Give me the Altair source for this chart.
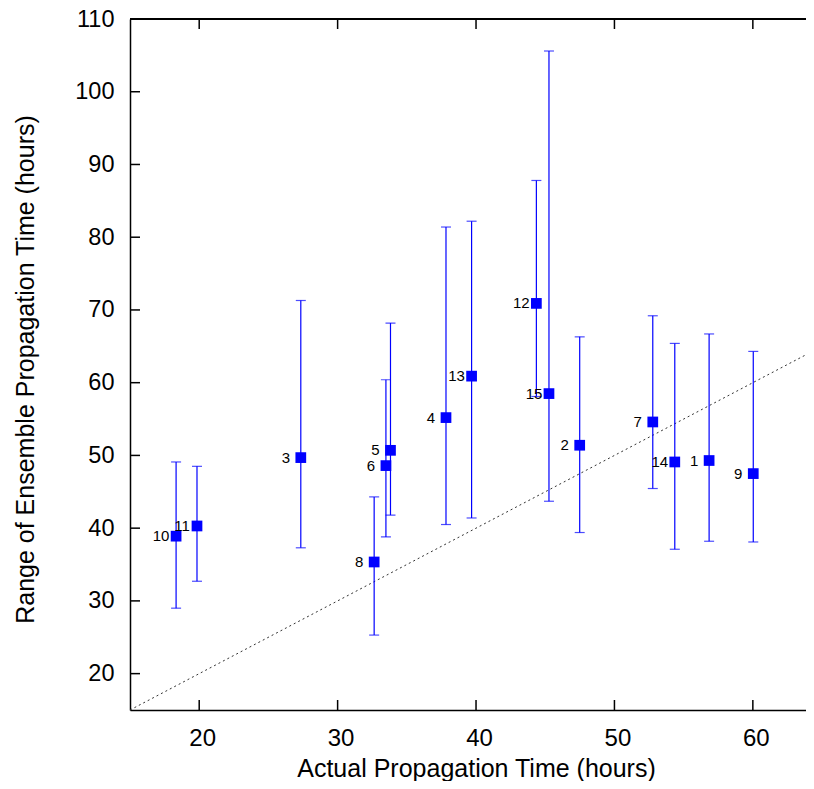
import altair as alt
import pandas as pd

# Event numbers and values
labels = ["1", "2", "3", "4", "5", "6", "7", "8", "9", "10", "11", "12", "13", "14", "15"]
actual = [56.84, 47.49, 27.34, 37.83, 33.82, 33.49, 52.77, 32.64, 60.03, 18.33, 19.84, 44.36, 39.68, 54.36, 45.27]
ens_mid = [49.3, 51.4, 49.7, 55.2, 50.7, 48.6, 54.6, 35.35, 47.5, 38.9, 40.3, 70.9, 60.9, 49.1, 58.5]
ens_low = [38.2, 39.4, 37.3, 40.5, 41.8, 38.8, 45.45, 25.3, 38.1, 29.0, 32.7, 58.1, 41.4, 37.1, 43.7]
ens_high = [66.7, 66.3, 71.3, 81.4, 68.2, 60.4, 69.2, 44.3, 64.3, 49.1, 48.5, 87.8, 82.2, 65.4, 105.6]

x_ticks = [20, 30, 40, 50, 60]
y_ticks = [20, 30, 40, 50, 60, 70, 80, 90, 100, 110]
diag = [15, 65]

W, H = 676, 691
FONT = "Liberation Sans"
BLUE = "#0000ff"

df = pd.DataFrame({"label": labels, "x": actual, "y": ens_mid, "lo": ens_low, "hi": ens_high})
xt = pd.DataFrame({"x": x_ticks})
yt = pd.DataFrame({"y": y_ticks})
dd = pd.DataFrame({"x": diag, "y": diag})

xs = alt.Scale(domain=[15, 63.84], nice=False, zero=False)
ys = alt.Scale(domain=[15, 110], nice=False, zero=False)

ax_x = alt.Axis(
    values=x_ticks, ticks=False, grid=False, title="Actual Propagation Time (hours)",
    labelFont=FONT, labelFontSize=24, labelColor="black", labelPadding=16, labelOffset=3,
    domainColor="black", domainWidth=1.5, domainOpacity=1,
    titleFont=FONT, titleFontSize=25, titleFontWeight="normal", titleColor="black",
    titleX=346, titleY=66, titleBaseline="alphabetic", titleAlign="center")
ax_y = alt.Axis(
    values=y_ticks, ticks=False, grid=False, title="Range of Ensemble Propagation Time (hours)",
    labelFont=FONT, labelFontSize=23.5, labelColor="black", labelPadding=16,
    domainColor="black", domainWidth=1.5, domainOpacity=1,
    titleFont=FONT, titleFontSize=25, titleFontWeight="normal", titleColor="black",
    titleX=-97, titleY=350, titleAngle=270, titleBaseline="alphabetic", titleAlign="center")

X = lambda f: alt.X(f, scale=xs, axis=ax_x)
Y = lambda f: alt.Y(f, scale=ys, axis=ax_y)

base = alt.Chart(df)

points = base.mark_square(size=115, color=BLUE, opacity=1).encode(x=X("x:Q"), y=Y("y:Q"))

bars = base.mark_rule(color=BLUE, strokeWidth=1.2).encode(x=X("x:Q"), y=Y("lo:Q"), y2="hi:Q")
cap_lo = base.mark_tick(color=BLUE, orient="horizontal", size=10, thickness=1.2).encode(
    x=X("x:Q"), y=Y("lo:Q"))
cap_hi = base.mark_tick(color=BLUE, orient="horizontal", size=10, thickness=1.2).encode(
    x=X("x:Q"), y=Y("hi:Q"))

text = base.mark_text(font=FONT, fontSize=15, color="black", align="center",
                      baseline="middle", dx=-15).encode(x=X("x:Q"), y=Y("y:Q"), text="label:N")

diag_line = alt.Chart(dd).mark_line(color="#333333", strokeWidth=1, strokeDash=[2, 3], clip=True).encode(
    x=X("x:Q"), y=Y("y:Q"))

tick_style = dict(color="black", strokeWidth=1.5)
bottom_ticks = alt.Chart(xt).mark_rule(**tick_style).encode(
    x=X("x:Q"), y=alt.value(H), y2=alt.value(H - 10))
top_ticks = alt.Chart(xt).mark_rule(**tick_style).encode(
    x=X("x:Q"), y=alt.value(0), y2=alt.value(10))
left_ticks = alt.Chart(yt).mark_rule(**tick_style).encode(
    y=Y("y:Q"), x=alt.value(0), x2=alt.value(10))
top_border = alt.Chart(xt).mark_rule(**tick_style).encode(
    x=alt.value(0), x2=alt.value(W + 8), y=alt.value(0))

chart = alt.layer(
    diag_line, bars, cap_lo, cap_hi, points, text,
    bottom_ticks, top_ticks, left_ticks, top_border,
).properties(
    width=W, height=H,
    autosize=alt.AutoSizeParams(type="none"),
    padding={"left": 122, "top": 11, "right": 0, "bottom": 71},
).configure_view(strokeWidth=0).configure(background="white")

chart.save("out.html", embed_options={"renderer": "svg", "actions": False})
